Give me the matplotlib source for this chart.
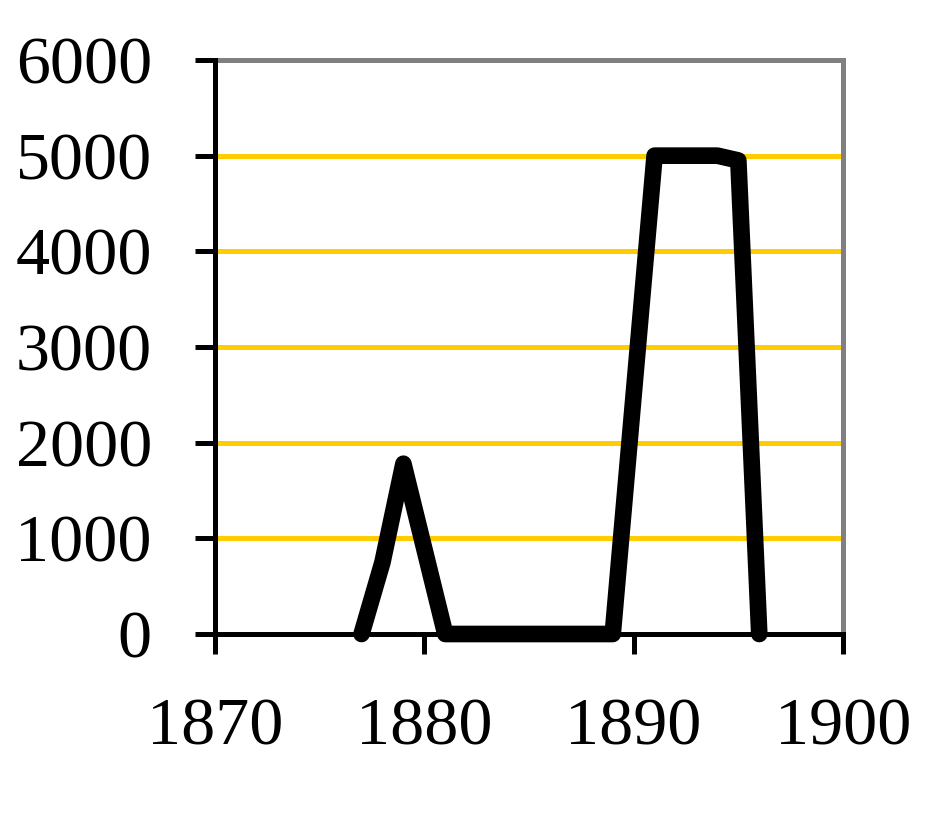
import matplotlib.pyplot as plt

plt.rcParams['font.family'] = ['Liberation Serif', 'DejaVu Serif']

# valores
years = [1877, 1878, 1879, 1880, 1881, 1882, 1883, 1884, 1885, 1886, 1887,
         1888, 1889, 1890, 1891, 1892, 1893, 1894, 1895, 1896]
values = [0, 750, 1780, 890, 0, 0, 0, 0, 0, 0, 0,
          0, 0, 2500, 5000, 5000, 5000, 5000, 4950, 0]
x_ticks = [1870, 1880, 1890, 1900]
y_ticks = [0, 1000, 2000, 3000, 4000, 5000, 6000]
grid_levels = [1000, 2000, 3000, 4000, 5000]

dpi = 100
fig = plt.figure(figsize=(9.29, 8.36), dpi=dpi)
ax = fig.add_axes([215 / 929, 1 - 634 / 836, (843 - 215) / 929, (634 - 60) / 836])

for g in grid_levels:
    ax.axhline(g, color='#FFCC00', lw=3.6, zorder=1)

ax.plot(years, values, color='black', lw=12, solid_capstyle='round',
        solid_joinstyle='round', zorder=3, clip_on=False)

ax.set_xlim(1870, 1900)
ax.set_ylim(0, 6000)
ax.set_xticks(x_ticks)
ax.set_yticks(y_ticks)
ax.tick_params(axis='both', labelsize=49, width=3.6, length=14.4,
               color='black')
ax.tick_params(axis='y', pad=31)
ax.tick_params(axis='x', pad=31)

for s in ['left', 'bottom']:
    ax.spines[s].set_color('black')
    ax.spines[s].set_linewidth(3.6)
    ax.spines[s].set_zorder(4)
for s in ['top', 'right']:
    ax.spines[s].set_color('#808080')
    ax.spines[s].set_linewidth(3.6)

plt.savefig('out.png', dpi=dpi)
